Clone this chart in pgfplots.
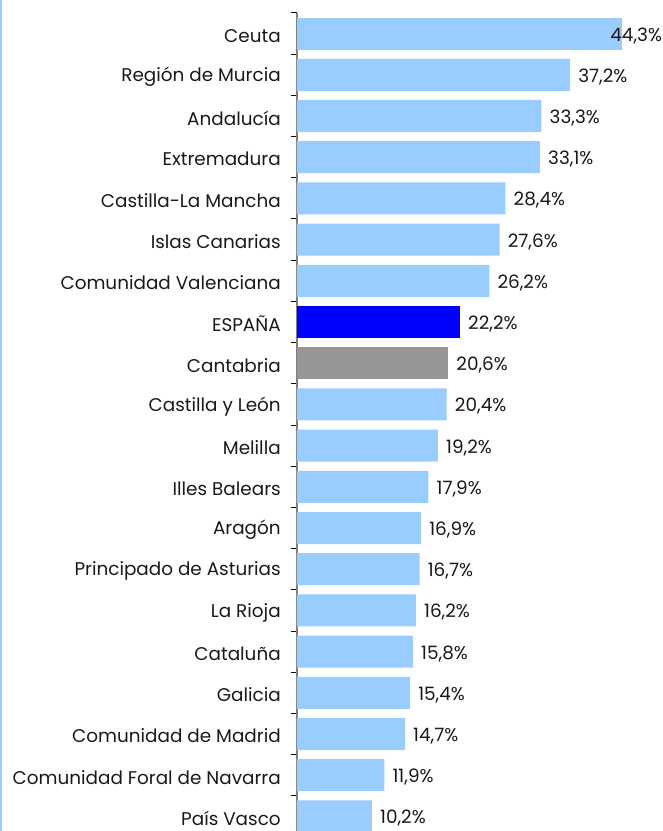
\documentclass[border=0pt]{standalone}
\usepackage{pgfplots}
\pgfplotsset{compat=1.18}
\usepackage{fontspec}
\setmainfont{Poppins}
\definecolor{lblue}{RGB}{153,204,255}
\definecolor{dblue}{RGB}{0,0,255}
\definecolor{mgray}{RGB}{150,150,150}
\definecolor{axgray}{RGB}{128,128,128}
\begin{document}
\begin{tikzpicture}
\begin{axis}[
  name=ax,
  scale only axis,
  width=275.25pt, height=618pt,
  xmin=0, xmax=50,
  ymin=-0.5, ymax=19.5,
  y dir=reverse,
  xbar, bar width=24pt, bar shift=0pt,
  axis x line=none,
  axis y line*=left,
  y axis line style={draw=axgray, line width=1.5pt},
  ytick={0,...,19},
  yticklabels={Ceuta,Región de Murcia,Andalucía,Extremadura,Castilla-La Mancha,Islas Canarias,Comunidad Valenciana,ESPAÑA,Cantabria,Castilla y León,Melilla,Illes Balears,Aragón,Principado de Asturias,La Rioja,Cataluña,Galicia,Comunidad de Madrid,Comunidad Foral de Navarra,País Vasco},
  major tick length=0pt,
  minor ytick={-0.5,0.5,...,19.5},
  minor tick length=4.5pt,
  tick align=outside,
  minor tick style={black, line width=0.75pt},
  yticklabel style={inner sep=0pt, xshift=-12pt, yshift=-1.5pt, font=\fontsize{13.8}{15}\selectfont, text=black!90},
  point meta=explicit symbolic,
  nodes near coords,
  clip=false,
]
\addplot[fill=lblue, draw=none, every node near coord/.style={anchor=west, inner sep=0pt, xshift=-9pt, yshift=-1.5pt, font=\fontsize{13.8}{15}\selectfont, text=black!90}] coordinates {(44.3,0) [44,3\%]};
\addplot[fill=lblue, draw=none, every node near coord/.style={anchor=west, inner sep=0pt, xshift=6pt, yshift=-1.5pt, font=\fontsize{13.8}{15}\selectfont, text=black!90}] coordinates {
(37.2,1) [37,2\%]
(33.3,2) [33,3\%]
(33.1,3) [33,1\%]
(28.4,4) [28,4\%]
(27.6,5) [27,6\%]
(26.2,6) [26,2\%]
(20.4,9) [20,4\%]
(19.2,10) [19,2\%]
(17.9,11) [17,9\%]
(16.9,12) [16,9\%]
(16.7,13) [16,7\%]
(16.2,14) [16,2\%]
(15.8,15) [15,8\%]
(15.4,16) [15,4\%]
(14.7,17) [14,7\%]
(11.9,18) [11,9\%]
(10.2,19) [10,2\%]
};
\addplot[fill=dblue, draw=none, every node near coord/.style={anchor=west, inner sep=0pt, xshift=6pt, yshift=-1.5pt, font=\fontsize{13.8}{15}\selectfont, text=black!90}] coordinates {(22.2,7) [22,2\%]};
\addplot[fill=mgray, draw=none, every node near coord/.style={anchor=west, inner sep=0pt, xshift=6pt, yshift=-1.5pt, font=\fontsize{13.8}{15}\selectfont, text=black!90}] coordinates {(20.6,8) [20,6\%]};
\end{axis}
\pgfresetboundingbox
\path[use as bounding box] ([xshift=-222.75pt, yshift=9.75pt]ax.north west) rectangle ([xshift=274.5pt, yshift=-613.5pt]ax.north west);
\draw[lblue, line width=1.5pt] ([xshift=-222pt, yshift=9.75pt]ax.north west) -- ([xshift=-222pt, yshift=-613.5pt]ax.north west);
\end{tikzpicture}
\end{document}
